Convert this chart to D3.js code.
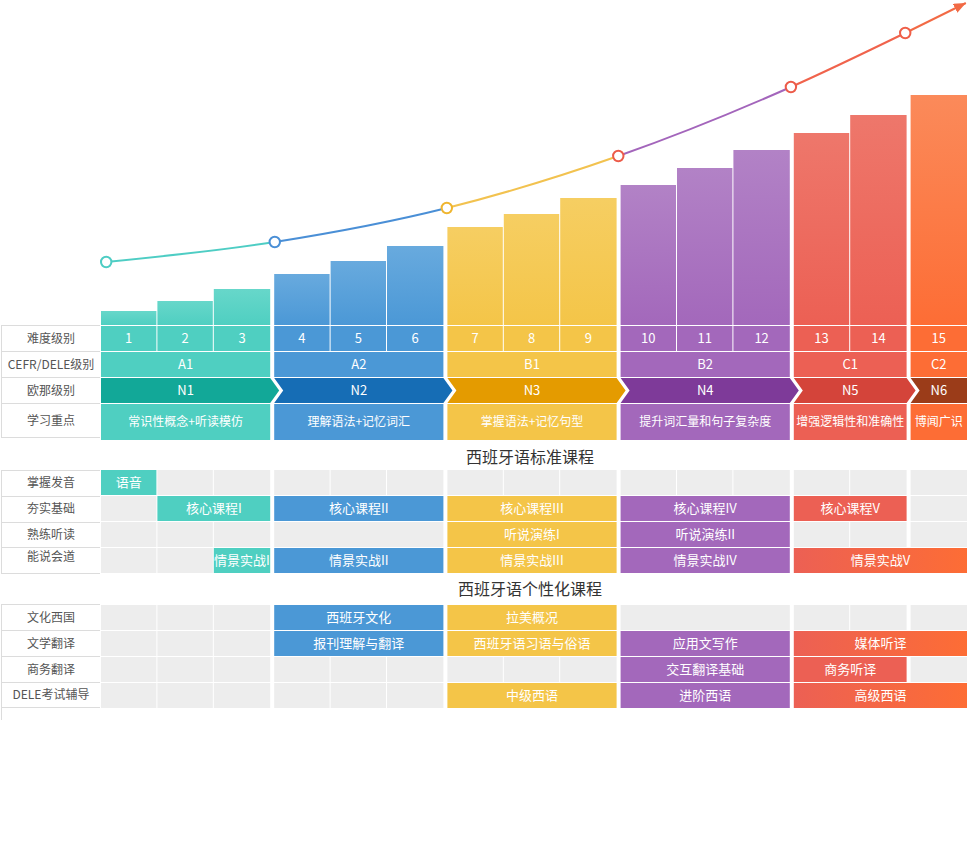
<!DOCTYPE html>
<html><head><meta charset="utf-8">
<script src="https://cdn.jsdelivr.net/npm/d3@7"></script>
<style>body{margin:0;background:#fff;} svg{display:block;font-family:"Noto Sans CJK SC","Noto Sans",sans-serif;}</style>
</head><body><svg id="c" width="970" height="859"></svg>
<script>
// ---------------- data ----------------
const levelLabels = ["1","2","3","4","5","6","7","8","9","10","11","12","13","14","15"];
const difficulty = [14,24,36,51,64,79,98,111,127,140,157,175,192,210,230];
const cefrLevels = ["A1","A2","B1","B2","C1","C2"];
const groupSizes = [3,3,3,3,2,1];
const onaLevels = ["N1","N2","N3","N4","N5","N6"];
const studyFocus = ["常识性概念+听读模仿","理解语法+记忆词汇","掌握语法+记忆句型","提升词汇量和句子复杂度","增强逻辑性和准确性","博闻广识"];
const topRowLabels = ["难度级别","CEFR/DELE级别","欧那级别","学习重点"];
const curveStage = [0.09, 3.01, 5.99, 8.96, 11.95, 13.93, 14.98];
const curveValue = [63, 83, 117, 169, 238, 292, 322];

const stdTitle = "西班牙语标准课程";
const stdRowLabels = ["掌握发音","夯实基础","熟练听读","能说会道"];
const stdCourses = [
  {row:0, from:0, to:0, name:"语音"},
  {row:1, from:1, to:2, name:"核心课程I"},
  {row:1, from:3, to:5, name:"核心课程II"},
  {row:1, from:6, to:8, name:"核心课程III"},
  {row:1, from:9, to:11, name:"核心课程IV"},
  {row:1, from:12, to:13, name:"核心课程V"},
  {row:2, from:3, to:5, name:""},
  {row:2, from:6, to:8, name:"听说演练I"},
  {row:2, from:9, to:11, name:"听说演练II"},
  {row:3, from:2, to:2, name:"情景实战I"},
  {row:3, from:3, to:5, name:"情景实战II"},
  {row:3, from:6, to:8, name:"情景实战III"},
  {row:3, from:9, to:11, name:"情景实战IV"},
  {row:3, from:12, to:14, name:"情景实战V"}
];
const customTitle = "西班牙语个性化课程";
const customRowLabels = ["文化西国","文学翻译","商务翻译","DELE考试辅导"];
const customCourses = [
  {row:0, from:3, to:5, name:"西班牙文化"},
  {row:0, from:6, to:8, name:"拉美概况"},
  {row:0, from:9, to:11, name:""},
  {row:1, from:3, to:5, name:"报刊理解与翻译"},
  {row:1, from:6, to:8, name:"西班牙语习语与俗语"},
  {row:1, from:9, to:11, name:"应用文写作"},
  {row:1, from:12, to:14, name:"媒体听译"},
  {row:2, from:9, to:11, name:"交互翻译基础"},
  {row:2, from:12, to:13, name:"商务听译"},
  {row:3, from:6, to:8, name:"中级西语"},
  {row:3, from:9, to:11, name:"进阶西语"},
  {row:3, from:12, to:14, name:"高级西语"}
];

// ---------------- styles ----------------
const palette = [
  {base:"#4fcfc1", light:"#67d7ca", dark:"#12a898"},
  {base:"#4b98d6", light:"#68aade", dark:"#166db5"},
  {base:"#f4c548", light:"#f6ce62", dark:"#e49b00"},
  {base:"#a368bb", light:"#b282c6", dark:"#7e3a99"},
  {base:"#ec6054", light:"#ee776b", dark:"#d4443a"},
  {base:"#fd6d35", light:"#fb8a5a", dark:"#9b3c19"}
];
const lineColors = ["#4ecdc4","#4a8fd6","#f2c24f","#a365bb","#f0634c","#f26a45"];
const dotColors = ["#4ecdc4","#4a8fd6","#efb52f","#ec5b49","#ec5b49","#ef5f48"];
const GRAY = "#ededed", LINE = "#dcdcdc", LABEL = "#555";

const svg = d3.select("#c");
const defs = svg.append("defs");

const colGroup = [];
groupSizes.forEach((n,g)=>{for(let k=0;k<n;k++) colGroup.push(g);});
const groupStart = []; {let s=0; groupSizes.forEach(n=>{groupStart.push(s); s+=n;});}
const GAP = 4;
const xs = d3.scaleLinear().domain([0,15]).range([101, 101 + 15*56.4]);
const colLeft = i => xs(i) + GAP*colGroup[i];
const colRight = i => {
  const g = colGroup[i];
  const last = groupStart[g] + groupSizes[g] - 1;
  return i === last ? xs(i+1) + GAP*g : xs(i+1) + GAP*g - 1;
};
const gLeft = g => colLeft(groupStart[g]);
const gRight = g => colRight(groupStart[g] + groupSizes[g] - 1);
const yScale = d3.scaleLinear().domain([0,325]).range([325,0]);
const lx = d3.scaleLinear().domain([0,15]).range([101, 967]);

palette.forEach((p,g)=>{
  const lg = defs.append("linearGradient").attr("id","bar"+g).attr("x1",0).attr("y1",0).attr("x2",0).attr("y2",1);
  lg.append("stop").attr("offset","0%").attr("stop-color",p.light);
  lg.append("stop").attr("offset","100%").attr("stop-color",p.base);
});
function spanFill(from,to){
  const g1 = colGroup[from], g2 = colGroup[to];
  if (g1 === g2) return palette[g1].base;
  const id = "span"+g1+"_"+g2;
  if (defs.select("#"+id).empty()){
    const lg = defs.append("linearGradient").attr("id",id).attr("x1",0).attr("y1",0).attr("x2",1).attr("y2",0);
    lg.append("stop").attr("offset","0%").attr("stop-color",palette[g1].base);
    lg.append("stop").attr("offset","100%").attr("stop-color",palette[g2].base);
  }
  return "url(#"+id+")";
}

function cellText(parent, x, yc, txt, size, color){
  parent.append("text").attr("x",x).attr("y",yc).attr("dy","0.36em")
    .attr("text-anchor","middle").attr("font-size",size).attr("fill",color||"#fff").text(txt);
}

// ---------------- label column ----------------
function labelColumn(lines, bottomExt, labels, centers){
  const g = svg.append("g");
  lines.forEach(v=>g.append("line").attr("x1",1).attr("x2",100).attr("y1",v).attr("y2",v).attr("stroke",LINE));
  g.append("line").attr("x1",1.5).attr("x2",1.5).attr("y1",lines[0]).attr("y2",bottomExt).attr("stroke",LINE);
  labels.forEach((t,i)=>cellText(g, 51, centers[i], t, 12, LABEL));
}
labelColumn([325.5,351.5,377.5,403.5,437.5], 437.5, topRowLabels, [338.5,364.5,390.5,420.5]);
labelColumn([470.5,496.5,522.5,547.5,573.5], 573.5, stdRowLabels, [483,509,534.5,557]);
labelColumn([604.5,630.5,656.5,682.5,707.5], 720, customRowLabels, [617.5,643.5,669.5,695]);

// ---------------- bars + top rows ----------------
const topG = svg.append("g");
difficulty.forEach((v,i)=>{
  const g = colGroup[i];
  topG.append("rect").attr("x",colLeft(i)).attr("width",colRight(i)-colLeft(i))
    .attr("y",yScale(v)).attr("height",325-yScale(v)).attr("fill","url(#bar"+g+")");
  topG.append("rect").attr("x",colLeft(i)).attr("width",colRight(i)-colLeft(i))
    .attr("y",326).attr("height",25).attr("fill",palette[g].base);
  cellText(topG, (colLeft(i)+colRight(i))/2, 338.5, levelLabels[i], 13);
});
cefrLevels.forEach((t,g)=>{
  topG.append("rect").attr("x",gLeft(g)).attr("width",gRight(g)-gLeft(g)).attr("y",352).attr("height",25).attr("fill",palette[g].base);
  cellText(topG,(gLeft(g)+gRight(g))/2,364.5,t,13);
});
const TIP = 9;
onaLevels.forEach((t,g)=>{
  const x0=gLeft(g), x1=gRight(g), t0=378, t1=403, m=(t0+t1)/2;
  const pts=[[x0,t0],[x1,t0]];
  if (g<onaLevels.length-1) pts.push([x1+TIP,m]);
  pts.push([x1,t1],[x0,t1]);
  if (g>0) pts.push([x0+TIP,m]);
  topG.append("polygon").attr("points",pts.map(p=>p.join(",")).join(" ")).attr("fill",palette[g].dark);
  cellText(topG,(x0+x1)/2,m,t,13);
});
studyFocus.forEach((t,g)=>{
  topG.append("rect").attr("x",gLeft(g)).attr("width",gRight(g)-gLeft(g)).attr("y",404).attr("height",36).attr("fill",palette[g].base);
  cellText(topG,(gLeft(g)+gRight(g))/2,422,t,12);
});

// ---------------- curve ----------------
const cpts = curveStage.map((s,i)=>[lx(s), yScale(curveValue[i])]);
const lgl = defs.append("linearGradient").attr("id","lineGrad").attr("gradientUnits","userSpaceOnUse")
  .attr("x1",lx(0)).attr("x2",lx(15)).attr("y1",0).attr("y2",0);
const frac = s => (lx(s)-lx(0))/(lx(15)-lx(0));
for (let k=0;k<cpts.length-1;k++){
  lgl.append("stop").attr("offset",frac(curveStage[k])).attr("stop-color",lineColors[k]);
  lgl.append("stop").attr("offset",frac(curveStage[k+1])).attr("stop-color",lineColors[k]);
}
defs.append("marker").attr("id","arrow").attr("viewBox","0 0 12 10").attr("refX",12).attr("refY",5)
  .attr("markerWidth",12).attr("markerHeight",10).attr("markerUnits","userSpaceOnUse").attr("orient","auto")
  .append("path").attr("d","M0,0L12,5L0,10Z").attr("fill",lineColors[5]);
svg.append("path").attr("d",d3.line().curve(d3.curveMonotoneX)(cpts))
  .attr("fill","none").attr("stroke","url(#lineGrad)").attr("stroke-width",2).attr("marker-end","url(#arrow)");
cpts.slice(0,6).forEach((p,i)=>{
  svg.append("circle").attr("cx",p[0]).attr("cy",p[1]).attr("r",5.2)
    .attr("fill","#fff").attr("stroke",dotColors[i]).attr("stroke-width",2);
});

// ---------------- course sections ----------------
function section(title, titleY, rowTops, courses){
  const g = svg.append("g");
  cellText(g, 530, titleY, title, 16, "#333");
  rowTops.forEach((ry,r)=>{
    const covered = new Set();
    courses.filter(c=>c.row===r).forEach(c=>{for(let i=c.from;i<=c.to;i++) covered.add(i);});
    for (let i=0;i<15;i++){
      if (covered.has(i)) continue;
      g.append("rect").attr("x",colLeft(i)).attr("width",colRight(i)-colLeft(i)).attr("y",ry).attr("height",25).attr("fill",GRAY);
    }
    courses.filter(c=>c.row===r).forEach(c=>{
      const x0=colLeft(c.from), x1=colRight(c.to);
      g.append("rect").attr("x",x0).attr("width",x1-x0).attr("y",ry).attr("height",25)
        .attr("fill", c.name ? spanFill(c.from,c.to) : GRAY);
      if (c.name) cellText(g,(x0+x1)/2, ry+12.5, c.name, 13);
    });
  });
}
section(stdTitle, 457, [470,496,522,548], stdCourses);
section(customTitle, 589, [605,631,657,683], customCourses);
</script></body></html>
